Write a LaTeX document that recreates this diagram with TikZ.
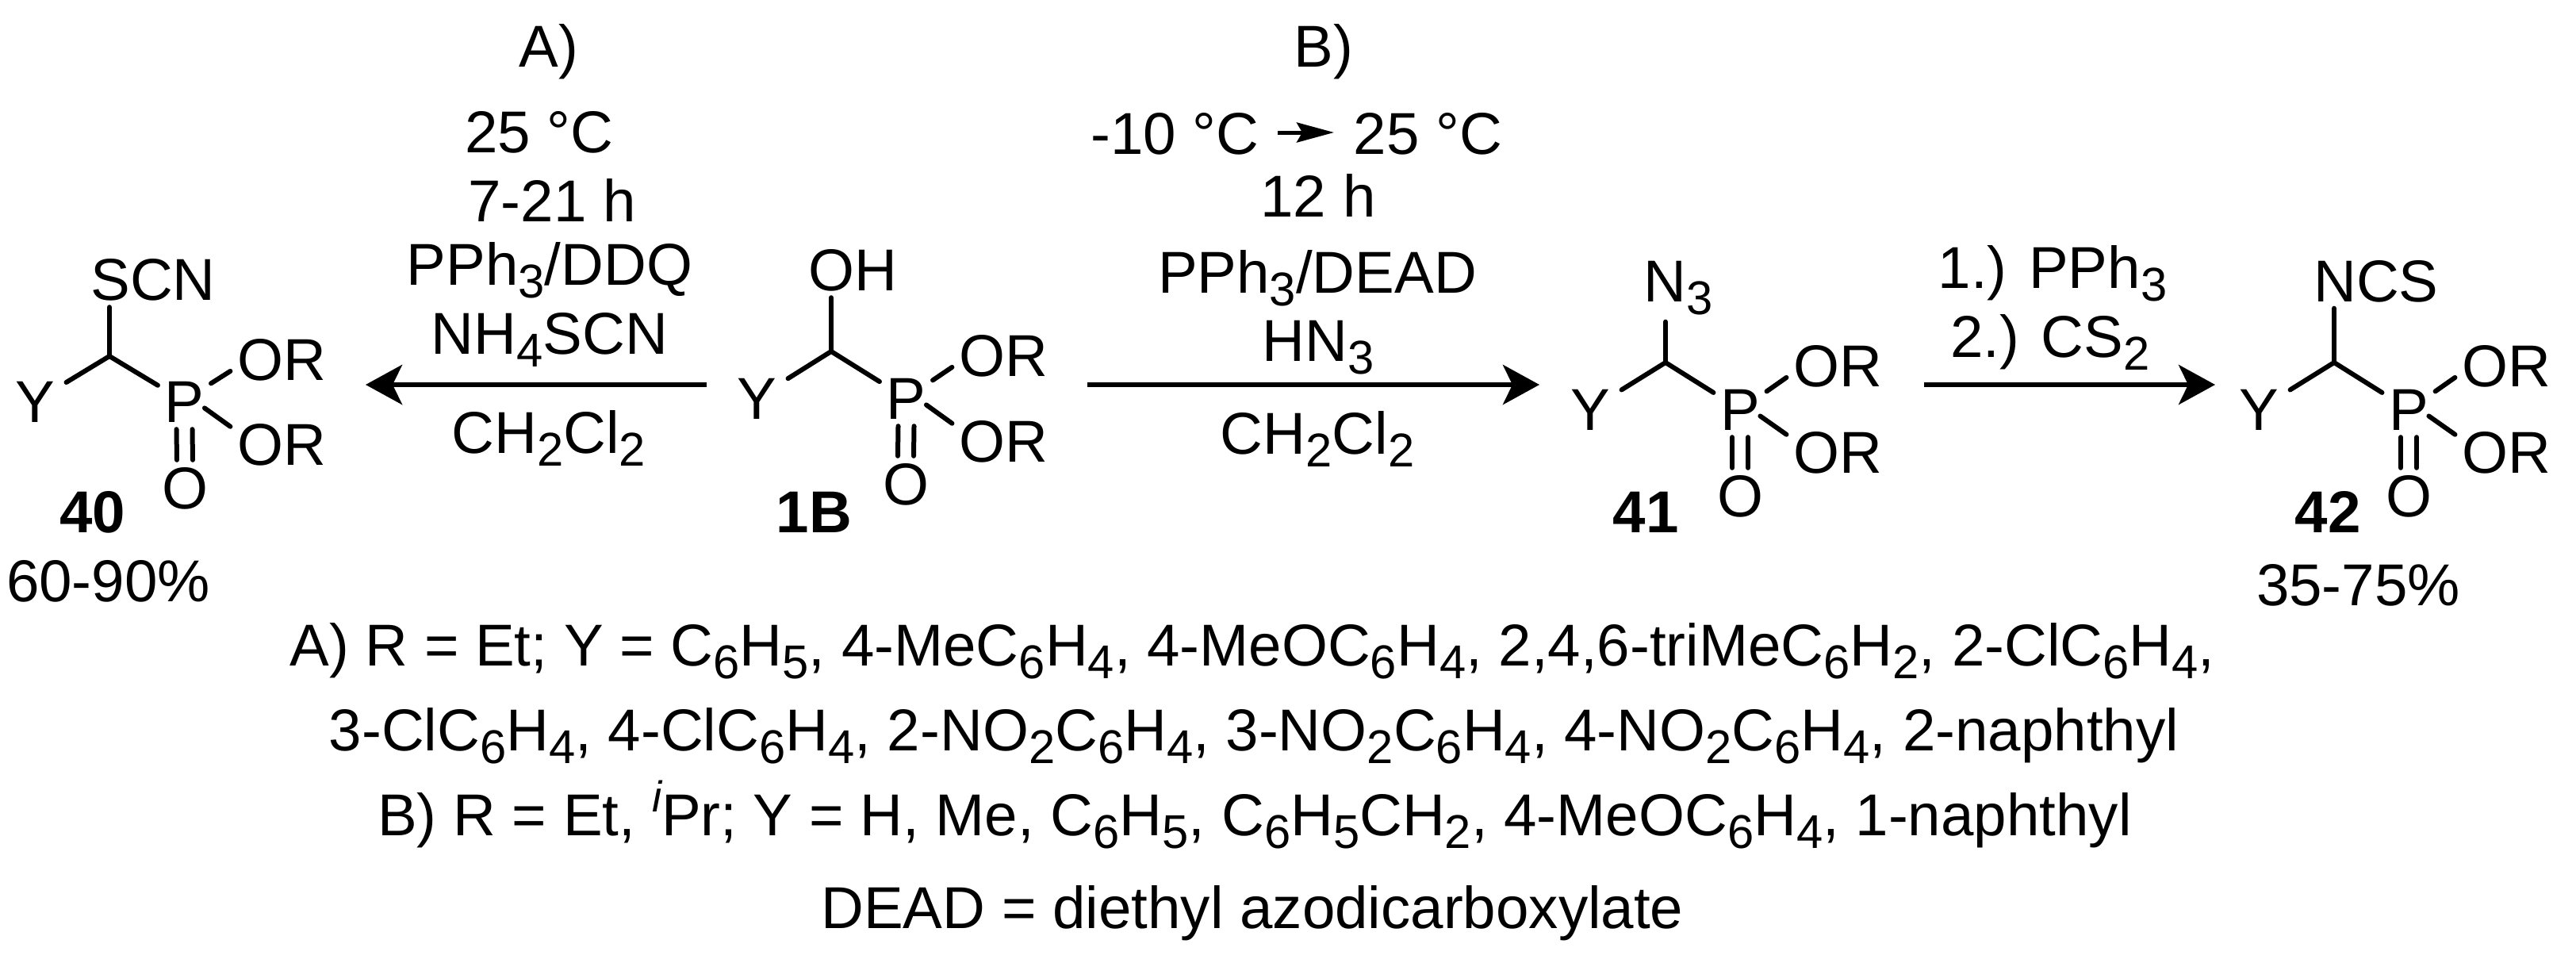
\documentclass[tikz,border=0pt]{standalone}
\usepackage{fontspec}
\setmainfont{Liberation Sans}
\usetikzlibrary{arrows.meta}
\newcommand{\sbs}[1]{\raisebox{-0.16cm}{\fontsize{17}{17}\selectfont #1}}
\tikzset{
  atom/.style={inner sep=0.08cm, text height=0.53cm, text depth=0cm},
  wideatom/.style={atom, inner sep=0.14cm},
  bond/.style={line width=0.06cm, line cap=round},
  rxn/.style={line width=0.065cm, -{Stealth[length=0.46cm,width=0.5cm,inset=0.12cm]}},
  rxntext/.style={anchor=base, inner sep=0pt},
}
\begin{document}
\begin{tikzpicture}[every node/.style={font=\fontsize{21.2}{26}\selectfont}]
\useasboundingbox (0,0) rectangle (32.48,12.08);

% 40
\coordinate (C40) at (1.38,7.59);
\node[wideatom] (Y40) at (0.44,7.02) {Y};
\node[atom] (P40) at (2.325,7.02) {P};
\node[atom] (Oa40) at (3.55,7.55) {OR};
\node[atom] (Ob40) at (3.55,6.48) {OR};
\node[atom] (O40) at (2.33,5.93) {O};
\node[atom] (X40) at (1.93,8.56) {SCN};
\draw[bond] (C40) -- (Y40);
\draw[bond] (C40) -- (P40);
\draw[bond] (C40) -- (C40 |- X40.south);
\draw[bond] (P40.34) -- (Oa40.193);
\draw[bond, shorten <=-0.1cm] (P40.-23) -- (Ob40.161);
\draw[bond] ([xshift=-0.1cm]P40.south) -- ([xshift=-0.1cm]O40.north);
\draw[bond] ([xshift=0.1cm]P40.south) -- ([xshift=0.1cm]O40.north);

% 1B
\coordinate (C1B) at (10.48,7.65);
\node[wideatom] (Y1B) at (9.54,7.06) {Y};
\node[atom] (P1B) at (11.425,7.06) {P};
\node[atom] (Oa1B) at (12.65,7.60) {OR};
\node[atom] (Ob1B) at (12.65,6.52) {OR};
\node[atom] (O1B) at (11.42,5.98) {O};
\node[atom] (X1B) at (10.75,8.68) {OH};
\draw[bond] (C1B) -- (Y1B);
\draw[bond] (C1B) -- (P1B);
\draw[bond] (C1B) -- (C1B |- X1B.south);
\draw[bond] (P1B.34) -- (Oa1B.193);
\draw[bond, shorten <=-0.1cm] (P1B.-23) -- (Ob1B.161);
\draw[bond] ([xshift=-0.1cm]P1B.south) -- ([xshift=-0.1cm]O1B.north);
\draw[bond] ([xshift=0.1cm]P1B.south) -- ([xshift=0.1cm]O1B.north);

% 41
\coordinate (C41) at (21.00,7.51);
\node[wideatom] (Y41) at (20.05,6.92) {Y};
\node[atom] (P41) at (21.94,6.92) {P};
\node[atom] (Oa41) at (23.17,7.47) {OR};
\node[atom] (Ob41) at (23.17,6.38) {OR};
\node[atom] (O41) at (21.94,5.83) {O};
\node[atom, inner sep=0.25cm] (X41) at (21.16,8.545) {N\sbs{3}};
\draw[bond] (C41) -- (Y41);
\draw[bond] (C41) -- (P41);
\draw[bond] (C41) -- (C41 |- X41.south);
\draw[bond] (P41.34) -- (Oa41.193);
\draw[bond, shorten <=-0.1cm] (P41.-23) -- (Ob41.161);
\draw[bond] ([xshift=-0.1cm]P41.south) -- ([xshift=-0.1cm]O41.north);
\draw[bond] ([xshift=0.1cm]P41.south) -- ([xshift=0.1cm]O41.north);

% 42
\coordinate (C42) at (29.43,7.51);
\node[wideatom] (Y42) at (28.48,6.92) {Y};
\node[atom] (P42) at (30.37,6.92) {P};
\node[atom] (Oa42) at (31.60,7.47) {OR};
\node[atom] (Ob42) at (31.60,6.38) {OR};
\node[atom] (O42) at (30.37,5.83) {O};
\node[atom] (X42) at (29.96,8.545) {NCS};
\draw[bond] (C42) -- (Y42);
\draw[bond] (C42) -- (P42);
\draw[bond] (C42) -- (C42 |- X42.south);
\draw[bond] (P42.34) -- (Oa42.193);
\draw[bond, shorten <=-0.1cm] (P42.-23) -- (Ob42.161);
\draw[bond] ([xshift=-0.1cm]P42.south) -- ([xshift=-0.1cm]O42.north);
\draw[bond] ([xshift=0.1cm]P42.south) -- ([xshift=0.1cm]O42.north);

% compound labels
\node[rxntext] (lab40) at (1.165,5.37) {\bfseries 40};
\node[rxntext] (lab1B) at (10.265,5.37) {\bfseries 1B};
\node[rxntext] (lab41) at (20.75,5.37) {\bfseries 41};
\node[rxntext] (lab42) at (29.35,5.37) {\bfseries 42};
\node[rxntext] (yield40) at (1.365,4.50) {60-90\%};
\node[rxntext] (yield42) at (29.735,4.45) {35-75\%};

% arrows
\coordinate (Astart) at (8.91,7.23);
\coordinate (Aend) at (4.61,7.23);
\coordinate (Bstart) at (13.71,7.23);
\coordinate (Bend) at (19.41,7.23);
\coordinate (Cstart) at (24.26,7.23);
\coordinate (Cend) at (27.93,7.23);
\draw[rxn] (Astart) -- (Aend);
\draw[rxn] (Bstart) -- (Bend);
\draw[rxn] (Cstart) -- (Cend);

% conditions A
\node[rxntext] (Ahead) at (6.92,11.24) {A)};
\node[rxntext] (Atemp) at (6.80,10.16) {25 °C};
\node[rxntext] (Atime) at (6.96,9.29) {7-21 h};
\node[rxntext] (Areag) at (6.93,8.49) {PPh\sbs{3}/DDQ};
\node[rxntext] (Asalt) at (6.93,7.62) {NH\sbs{4}SCN};
\node[rxntext] (Asolv) at (6.92,6.37) {CH\sbs{2}Cl\sbs{2}};

% conditions B
\node[rxntext] (Bhead) at (16.69,11.24) {B)};
\node[rxntext] (Btempa) at (14.815,10.14) {-10 °C};
\node[rxntext] (Btempb) at (18.005,10.14) {25 °C};
\node[rxntext] (Btime) at (16.62,9.35) {12 h};
\node[rxntext] (Breag) at (16.61,8.39) {PPh\sbs{3}/DEAD};
\node[rxntext] (Bacid) at (16.62,7.53) {HN\sbs{3}};
\node[rxntext] (Bsolv) at (16.61,6.36) {CH\sbs{2}Cl\sbs{2}};
\coordinate (Tstart) at (16.11,10.41);
\coordinate (Tend) at (16.82,10.41);
\draw[line width=0.05cm, -{Stealth[length=0.47cm,width=0.25cm,inset=0.07cm]}] (Tstart) -- (Tend);

% conditions C
\node[rxntext] (Cone) at (25.88,8.45) {1.) PPh\sbs{3}};
\node[rxntext] (Ctwo) at (25.85,7.58) {2.) CS\sbs{2}};

% substituents
\node[rxntext] (lineA) at (15.79,3.69) {A) R = Et; Y = C\sbs{6}H\sbs{5}, 4-MeC\sbs{6}H\sbs{4}, 4-MeOC\sbs{6}H\sbs{4}, 2,4,6-triMeC\sbs{6}H\sbs{2}, 2-ClC\sbs{6}H\sbs{4},};
\node[rxntext] (lineAb) at (15.81,2.62) {3-ClC\sbs{6}H\sbs{4}, 4-ClC\sbs{6}H\sbs{4}, 2-NO\sbs{2}C\sbs{6}H\sbs{4}, 3-NO\sbs{2}C\sbs{6}H\sbs{4}, 4-NO\sbs{2}C\sbs{6}H\sbs{4}, 2-naphthyl};
\node[rxntext] (lineB) at (15.82,1.55) {B) R = Et, \raisebox{0.3cm}{\fontsize{15.5}{15.5}\selectfont\itshape i}Pr; Y = H, Me, C\sbs{6}H\sbs{5}, C\sbs{6}H\sbs{5}CH\sbs{2}, 4-MeOC\sbs{6}H\sbs{4}, 1-naphthyl};
\node[rxntext] (lineD) at (15.79,0.38) {DEAD = diethyl azodicarboxylate};
\end{tikzpicture}
\end{document}
